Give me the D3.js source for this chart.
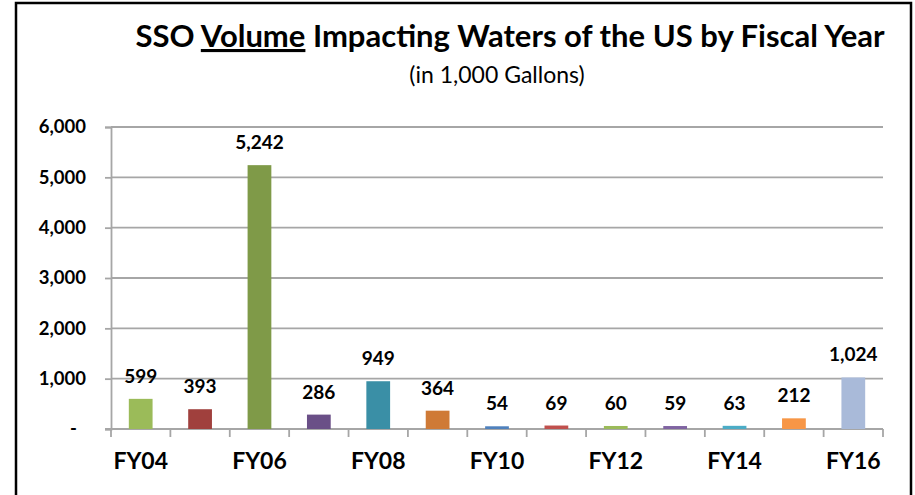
<!DOCTYPE html>
<html>
<head>
<meta charset="utf-8">
<script src="https://cdn.jsdelivr.net/npm/d3@7"></script>
<style>
   body { margin: 0; background: #fff; }
   text { font-family: Lato, "Liberation Sans", sans-serif; fill: #000; }
</style>
</head>
<body>
<div id="chart"></div>
<script>
// chart data
var years = ["FY04","FY05","FY06","FY07","FY08","FY09","FY10","FY11","FY12","FY13","FY14","FY15","FY16"];
var volumes = [599, 393, 5242, 286, 949, 364, 54, 69, 60, 59, 63, 212, 1024];
var barColors = ["#9BBB59","#A0403D","#7F9A48","#6A4F87","#3A8FA6","#CF7A36","#4F81BD",
                 "#C0504D","#9BBB59","#8064A2","#4BACC6","#F79646","#A9BAD9"];
var yTicks = [0, 1000, 2000, 3000, 4000, 5000, 6000];
var xLabels = ["FY04","FY06","FY08","FY10","FY12","FY14","FY16"];

var width = 915, height = 495;
var plot = {left: 111, right: 883, top: 127, bottom: 429};

var svg = d3.select("#chart").append("svg")
   .attr("width",width).attr("height",height);

svg.append("rect").attr("width",width).attr("height",height).attr("fill","#fff");

// outer frame (bottom edge runs past the picture)
svg.append("rect")
   .attr("x",16).attr("y",3)
   .attr("width",895).attr("height",520)
   .attr("fill","none").attr("stroke","#000").attr("stroke-width",2.5);

// scales
var x = d3.scaleBand().domain(years)
   .range([plot.left,plot.right])
   .paddingInner(0.6).paddingOuter(0.3);
var xEdges = d3.scaleBand().domain(years).range([plot.left,plot.right]).padding(0);
var y = d3.scaleLinear().domain([0,6000]).range([plot.bottom,plot.top]);

// grid lines
svg.append("g").attr("class","grid-lines")
   .selectAll("line").data(yTicks.filter(function(d){return d>0;})).enter()
   .append("line")
   .attr("x1",plot.left).attr("x2",plot.right)
   .attr("y1",function(d){return y(d);}).attr("y2",function(d){return y(d);})
   .attr("stroke","#A6A6A6").attr("stroke-width",1.8);

// y axis
var fmt = d3.format(",");
var yAxis = d3.axisLeft(y).tickValues(yTicks).tickSize(6).tickPadding(19)
   .tickFormat(function(d){return d === 0 ? "-" : fmt(d);});
var gy = svg.append("g").attr("class","y-axis")
   .attr("transform","translate("+plot.left+",0)")
   .call(yAxis);
gy.select(".domain").attr("stroke","#A6A6A6").attr("stroke-width",1.8);
gy.selectAll(".tick line").attr("stroke","#A6A6A6").attr("stroke-width",1.8);
gy.selectAll(".tick text")
   .style("font-family","Lato, sans-serif").style("font-size","18.5px").style("font-weight","bold")
   .attr("fill","#000");
gy.selectAll(".tick text").filter(function(d){return d === 0;}).attr("dx",-9);

// x axis: boundary ticks plus labels on every other year
var edges = years.map(function(d){return xEdges(d);}).concat([plot.right]);
var gx = svg.append("g").attr("class","x-axis");
gx.append("line")
   .attr("x1",plot.left-6).attr("x2",plot.right)
   .attr("y1",plot.bottom).attr("y2",plot.bottom)
   .attr("stroke","#A6A6A6").attr("stroke-width",1.8);
gx.selectAll(".edge").data(edges).enter()
   .append("line").attr("class","edge")
   .attr("x1",function(d){return d;}).attr("x2",function(d){return d;})
   .attr("y1",plot.bottom).attr("y2",plot.bottom+8)
   .attr("stroke","#A6A6A6").attr("stroke-width",1.8);

var xAxis = d3.axisBottom(x).tickSize(0).tickPadding(24)
   .tickFormat(function(d){return xLabels.indexOf(d) >= 0 ? d : "";});
var gxl = svg.append("g")
   .attr("transform","translate(0,"+plot.bottom+")")
   .call(xAxis);
gxl.select(".domain").remove();
gxl.selectAll(".tick text")
   .style("font-family","Lato, sans-serif").style("font-size","23px").style("font-weight","bold")
   .attr("fill","#000");

// bars
svg.append("g").attr("class","bars")
   .selectAll("rect").data(volumes).enter()
   .append("rect")
   .attr("x",function(d,i){return x(years[i]);})
   .attr("width",x.bandwidth())
   .attr("y",function(d){return y(d);})
   .attr("height",function(d){return y(0)-y(d);})
   .attr("fill",function(d,i){return barColors[i];});

// value labels
svg.append("g").attr("class","labels")
   .selectAll("text").data(volumes).enter()
   .append("text")
   .attr("x",function(d,i){return x(years[i])+x.bandwidth()/2;})
   .attr("y",function(d){return y(d)-16;})
   .attr("text-anchor","middle")
   .style("font-size","19px").style("font-weight","bold")
   .text(function(d){return fmt(d);});

// titles
var title = svg.append("text")
   .attr("x",510).attr("y",47)
   .attr("text-anchor","middle")
   .style("font-size","31px").style("font-weight","bold");
title.append("tspan").text("SSO ");
title.append("tspan").style("text-decoration","underline").text("Volume");
title.append("tspan").text(" Impacting Waters of the US by Fiscal Year");

svg.append("text")
   .attr("x",497).attr("y",83)
   .attr("text-anchor","middle")
   .style("font-size","23px")
   .text("(in 1,000 Gallons)");
</script>
</body>
</html>
